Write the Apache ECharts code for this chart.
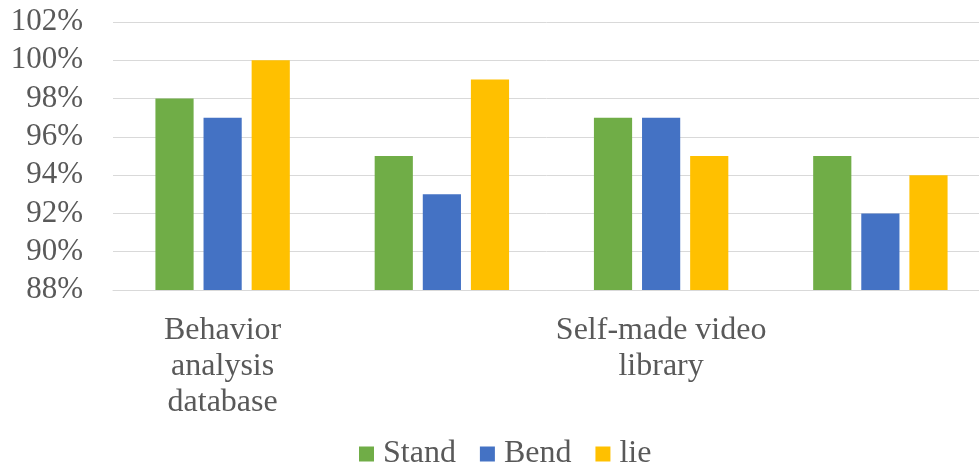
<!DOCTYPE html>
<html>
<head>
<meta charset="utf-8">
<script src="https://cdn.jsdelivr.net/npm/echarts@6/dist/echarts.min.js"></script>
<style>
html,body{margin:0;padding:0;background:#fff;}
#chart{width:979px;height:470px;}
</style>
</head>
<body>
<div id="chart"></div>
<script>
var categories = ["Behavior\nanalysis\ndatabase", "", "Self-made video\nlibrary", ""];
var standValues = [98, 95, 97, 95];
var bendValues = [97, 93, 97, 92];
var lieValues = [100, 99, 95, 94];
var seriesNames = ["Stand", "Bend", "lie"];
var yMin = 88, yMax = 102, yStep = 2;

var FONT = 'Liberation Serif';
var TXT = '#595959';
var chart = echarts.init(document.getElementById('chart'), null, {renderer: 'canvas'});
chart.setOption({
  animation: false,
  backgroundColor: '#ffffff',
  color: ['#70AD47', '#4472C4', '#FFC000'],
  grid: {left: 113, width: 877, top: 22, height: 268, containLabel: false, outerBoundsMode: 'none'},
  legend: {
    data: seriesNames,
    left: 359, top: 438, padding: 0,
    itemWidth: 15, itemHeight: 15, itemGap: 24,
    icon: 'rect',
    textStyle: {fontFamily: FONT, fontSize: 32, color: TXT, lineHeight: 32, padding: [0, 0, 0, 4]}
  },
  xAxis: {
    type: 'category',
    data: categories,
    axisLine: {show: true, lineStyle: {color: '#D9D9D9', width: 1}},
    axisTick: {show: false},
    axisLabel: {fontFamily: FONT, fontSize: 32, color: TXT, lineHeight: 36, margin: 23, interval: 0, align: 'center'},
    splitLine: {show: false}
  },
  yAxis: {
    type: 'value',
    min: yMin, max: yMax, interval: yStep,
    axisLine: {show: false},
    axisTick: {show: false},
    axisLabel: {fontFamily: FONT, fontSize: 31, color: TXT, margin: 30, formatter: '{value}%'},
    splitLine: {lineStyle: {color: '#D9D9D9', width: 1}}
  },
  series: [
    {name: seriesNames[0], type: 'bar', data: standValues, barGap: '26%', barCategoryGap: '38.7%'},
    {name: seriesNames[1], type: 'bar', data: bendValues, barGap: '26%', barCategoryGap: '38.7%'},
    {name: seriesNames[2], type: 'bar', data: lieValues, barGap: '26%', barCategoryGap: '38.7%'}
  ]
});
</script>
</body>
</html>
